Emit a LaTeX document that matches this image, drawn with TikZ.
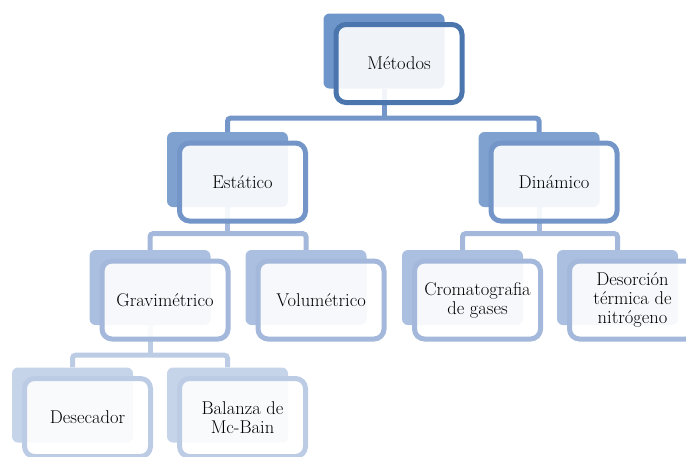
\documentclass[tikz,border=0pt]{standalone}
\definecolor{frameA}{HTML}{4A76AD}
\definecolor{backA}{HTML}{6E96CA}
\definecolor{frameB}{HTML}{7395C7}
\definecolor{backB}{HTML}{7FA1D0}
\definecolor{frameC}{HTML}{A3B8DA}
\definecolor{backC}{HTML}{ABC0E0}
\definecolor{frameD}{HTML}{BCCCE5}
\definecolor{backD}{HTML}{C6D4EA}
\begin{document}
\begin{tikzpicture}[x=1pt,y=-1pt,
    back/.style={rounded corners=6pt,minimum width=121pt,minimum height=75pt,inner sep=0pt},
    front/.style={draw,line width=5pt,rounded corners=10pt,fill=white,fill opacity=0.9,text opacity=1,
      minimum width=126pt,minimum height=78pt,inner sep=0pt,align=center,text=black,
      font=\fontsize{18.5}{19}\selectfont},
    conn/.style={line width=5pt,rounded corners=3pt}]
  \useasboundingbox (0,0) rectangle (686,456);
  \clip (0,0) rectangle (686,456);
  % back boxes
  \node[back,fill=backA] (metB) at (384,51) {};
  \node[back,fill=backB] (estB) at (227.5,169.5) {};
  \node[back,fill=backB] (dinB) at (539,169.5) {};
  \node[back,fill=backC] (graB) at (150,287.5) {};
  \node[back,fill=backC] (volB) at (306,287.5) {};
  \node[back,fill=backC] (croB) at (462.5,287.5) {};
  \node[back,fill=backC] (desB) at (617.5,287.5) {};
  \node[back,fill=backD] (secB) at (72.5,405) {};
  \node[back,fill=backD] (balB) at (227.5,405) {};
  % connectors
  \draw[conn,frameB!90!backB] (metB.south) -- ++(0,29.5) coordinate (jA);
  \draw[conn,frameB!90!backB] (estB.north) |- (jA) -| (dinB.north);
  \draw[conn,frameC] (estB.south) -- ++(0,26.5) coordinate (jB);
  \draw[conn,frameC] (graB.north) |- (jB) -| (volB.north);
  \draw[conn,frameC] (dinB.south) -- ++(0,26.5) coordinate (jC);
  \draw[conn,frameC] (croB.north) |- (jC) -| (desB.north);
  \draw[conn,frameD] (graB.south) -- ++(0,30) coordinate (jD);
  \draw[conn,frameD] (secB.north) |- (jD) -| (balB.north);
  % front boxes
  \node[front,draw=frameA] (metF) at ([shift={(15,12.5)}]metB.center) {Métodos};
  \node[front,draw=frameB] (estF) at ([shift={(15,12.5)}]estB.center) {Estático};
  \node[front,draw=frameB] (dinF) at ([shift={(15,12.5)}]dinB.center) {Dinámico};
  \node[front,draw=frameC] (graF) at ([shift={(15,12.5)}]graB.center) {Gravimétrico};
  \node[front,draw=frameC] (volF) at ([shift={(15,12.5)}]volB.center) {Volumétrico};
  \node[front,draw=frameC] (croF) at ([shift={(15,12.5)}]croB.center) {Cromatografia\\de gases};
  \node[front,draw=frameC] (desF) at ([shift={(15,12.5)}]desB.center) {Desorción\\térmica de\\nitrógeno};
  \node[front,draw=frameD] (secF) at ([shift={(15,12.5)}]secB.center) {Desecador};
  \node[front,draw=frameD] (balF) at ([shift={(15,12.5)}]balB.center) {Balanza de\\Mc-Bain};
\end{tikzpicture}
\end{document}
